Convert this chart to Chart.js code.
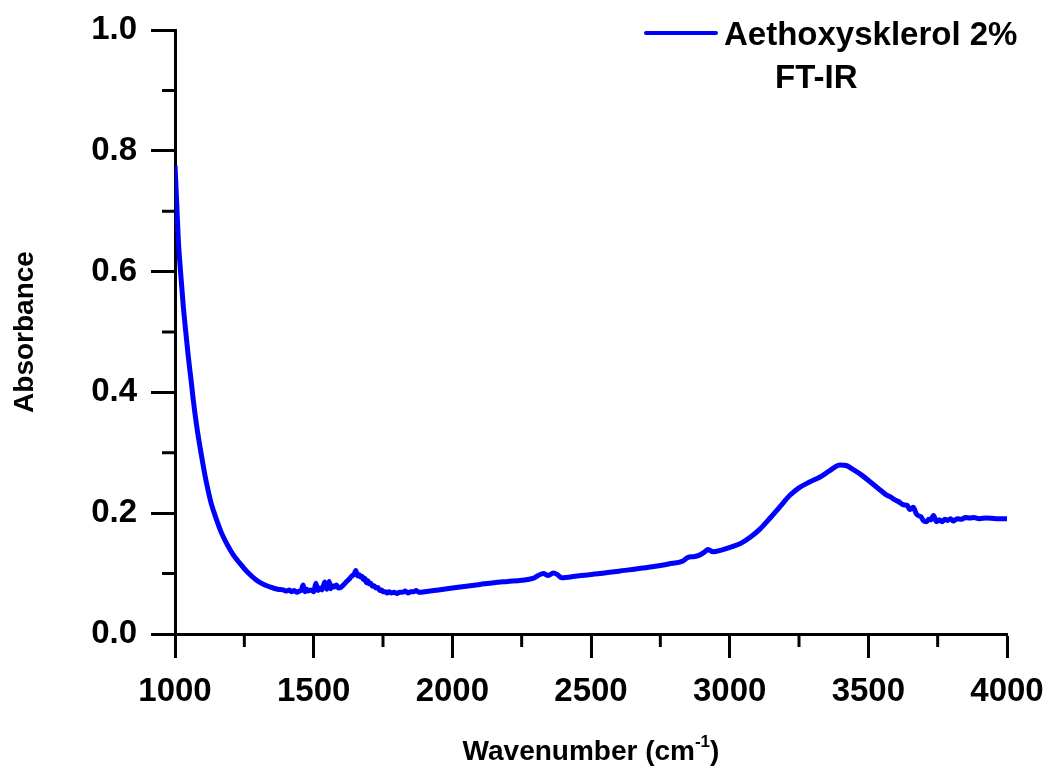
<!DOCTYPE html>
<html>
<head>
<meta charset="utf-8">
<script src="https://cdn.jsdelivr.net/npm/chart.js@4.4.0/dist/chart.umd.min.js"></script>
<style>
  html, body { margin: 0; padding: 0; background: #fff; }
  #spectro { display: block; }
</style>
</head>
<body>
<canvas id="spectro" width="1049" height="772"></canvas>
<script>
// wavenumber (cm-1) and absorbance
const wavenumber = [1000, 1006, 1012, 1020, 1030, 1040, 1048, 1058, 1066, 1078, 1090, 1102, 1114, 1130, 1150, 1168, 1186, 1210, 1234, 1260, 1294, 1320, 1342, 1370, 1390, 1402, 1412, 1420, 1430, 1440, 1448, 1455, 1462, 1468, 1475, 1480, 1490, 1500, 1508, 1515, 1522, 1530, 1540, 1548, 1556, 1562, 1570, 1575, 1582, 1590, 1600, 1615, 1630, 1640, 1645, 1652, 1656, 1660, 1665, 1670, 1675, 1680, 1685, 1690, 1695, 1700, 1706, 1712, 1718, 1725, 1732, 1738, 1745, 1750, 1758, 1765, 1772, 1780, 1790, 1800, 1810, 1820, 1830, 1840, 1850, 1860, 1870, 1880, 1900, 1950, 2000, 2050, 2100, 2150, 2200, 2250, 2290, 2310, 2328, 2346, 2364, 2380, 2394, 2450, 2533, 2600, 2713, 2780, 2832, 2850, 2870, 2893, 2910, 2922, 2940, 2970, 3012, 3040, 3074, 3110, 3146, 3180, 3218, 3250, 3290, 3326, 3360, 3398, 3420, 3446, 3476, 3506, 3536, 3566, 3580, 3596, 3610, 3626, 3640, 3650, 3662, 3672, 3680, 3690, 3698, 3710, 3718, 3725, 3735, 3746, 3756, 3766, 3776, 3786, 3796, 3806, 3820, 3836, 3850, 3866, 3880, 3900, 3926, 3960, 4000];
const absorbance = [0.776, 0.715, 0.652, 0.600, 0.542, 0.495, 0.459, 0.420, 0.387, 0.345, 0.310, 0.278, 0.249, 0.217, 0.189, 0.167, 0.150, 0.131, 0.117, 0.103, 0.089, 0.082, 0.078, 0.074, 0.073, 0.071, 0.073, 0.070, 0.072, 0.069, 0.071, 0.072, 0.081, 0.070, 0.074, 0.071, 0.073, 0.070, 0.084, 0.072, 0.076, 0.073, 0.086, 0.074, 0.087, 0.075, 0.080, 0.078, 0.081, 0.076, 0.078, 0.085, 0.092, 0.097, 0.098, 0.105, 0.099, 0.096, 0.098, 0.094, 0.095, 0.090, 0.092, 0.085, 0.088, 0.083, 0.084, 0.079, 0.080, 0.076, 0.077, 0.072, 0.073, 0.070, 0.070, 0.068, 0.070, 0.068, 0.069, 0.067, 0.069, 0.069, 0.071, 0.068, 0.070, 0.070, 0.072, 0.069, 0.070, 0.073, 0.076, 0.079, 0.082, 0.085, 0.087, 0.089, 0.092, 0.097, 0.100, 0.097, 0.101, 0.098, 0.093, 0.096, 0.100, 0.104, 0.111, 0.116, 0.121, 0.127, 0.128, 0.131, 0.136, 0.140, 0.136, 0.139, 0.145, 0.150, 0.160, 0.174, 0.192, 0.210, 0.230, 0.242, 0.252, 0.260, 0.270, 0.280, 0.279, 0.272, 0.263, 0.252, 0.241, 0.230, 0.227, 0.222, 0.219, 0.214, 0.213, 0.206, 0.210, 0.200, 0.196, 0.194, 0.188, 0.186, 0.190, 0.189, 0.196, 0.186, 0.189, 0.186, 0.190, 0.188, 0.191, 0.187, 0.191, 0.190, 0.193, 0.192, 0.193, 0.191, 0.192, 0.191, 0.191];

const xMinor = [1250, 1750, 2250, 2750, 3250, 3750];
const yMinor = [0.1, 0.3, 0.5, 0.7, 0.9];

const seriesName = 'Aethoxysklerol 2%';
const subTitle = 'FT-IR';
const FONT = "'Liberation Sans', Arial, sans-serif";

const points = wavenumber.map((w, i) => ({ x: w, y: absorbance[i] }));

// minor ticks, axis titles and the legend box
const extras = {
  id: 'extras',
  afterDraw(chart) {
    const ctx = chart.ctx;
    const xs = chart.scales.x, ys = chart.scales.y;
    const area = chart.chartArea;
    ctx.save();
    ctx.strokeStyle = '#000';
    ctx.lineWidth = 3;
    ctx.beginPath();
    xMinor.forEach(v => {
      const px = xs.getPixelForValue(v);
      ctx.moveTo(px, area.bottom);
      ctx.lineTo(px, area.bottom + 13);
    });
    yMinor.forEach(v => {
      const py = ys.getPixelForValue(v);
      ctx.moveTo(area.left - 13, py);
      ctx.lineTo(area.left, py);
    });
    ctx.stroke();

    ctx.fillStyle = '#000';
    // x title with superscript
    ctx.textBaseline = 'alphabetic';
    const a = 'Wavenumber (cm', b = '-1', c = ')';
    ctx.font = 'bold 28px ' + FONT;
    const wa = ctx.measureText(a).width, wc = ctx.measureText(c).width;
    ctx.font = 'bold 17px ' + FONT;
    const wb = ctx.measureText(b).width;
    let tx = (area.left + area.right) / 2 - (wa + wb + wc) / 2;
    const ty = 760;
    ctx.font = 'bold 28px ' + FONT;
    ctx.textAlign = 'left';
    ctx.fillText(a, tx, ty);
    ctx.font = 'bold 17px ' + FONT;
    ctx.fillText(b, tx + wa, ty - 13);
    ctx.font = 'bold 28px ' + FONT;
    ctx.fillText(c, tx + wa + wb, ty);

    // y title
    ctx.save();
    ctx.translate(33, (area.top + area.bottom) / 2);
    ctx.rotate(-Math.PI / 2);
    ctx.textAlign = 'center';
    ctx.font = 'bold 28px ' + FONT;
    ctx.fillText('Absorbance', 0, 0);
    ctx.restore();

    // legend
    const ds = chart.data.datasets[0];
    ctx.strokeStyle = ds.borderColor;
    ctx.lineWidth = 4;
    ctx.lineCap = 'round';
    ctx.beginPath();
    ctx.moveTo(646, 33);
    ctx.lineTo(716, 33);
    ctx.stroke();
    ctx.font = 'bold 33px ' + FONT;
    ctx.textAlign = 'left';
    ctx.fillText(ds.label, 724, 45);
    ctx.fillText(subTitle, 775, 88);
    ctx.restore();
  }
};

new Chart(document.getElementById('spectro'), {
  type: 'line',
  data: {
    datasets: [{
      label: seriesName,
      data: points,
      borderColor: '#0000ff',
      backgroundColor: '#0000ff',
      borderWidth: 5,
      pointRadius: 0,
      cubicInterpolationMode: 'monotone',
      fill: false
    }]
  },
  options: {
    responsive: false,
    animation: false,
    layout: { padding: { top: 30, right: 42, left: 0, bottom: 0 } },
    plugins: { legend: { display: false }, tooltip: { enabled: false } },
    scales: {
      x: {
        type: 'linear',
        min: 1000,
        max: 4000,
        afterFit(scale) {
          scale.height = 138;
          scale.paddingLeft = 0;
          scale.paddingRight = 0;
        },
        border: { color: '#000', width: 3 },
        grid: { drawOnChartArea: false, tickLength: 24, tickWidth: 3, tickColor: '#000' },
        ticks: {
          stepSize: 500,
          color: '#000',
          padding: 14,
          font: { family: FONT, size: 33, weight: 'bold' },
          callback: v => String(v)
        }
      },
      y: {
        min: 0,
        max: 1,
        afterFit(scale) {
          scale.width = 175;
          scale.paddingTop = 0;
          scale.paddingBottom = 0;
        },
        border: { color: '#000', width: 3 },
        grid: { drawOnChartArea: false, tickLength: 24, tickWidth: 3, tickColor: '#000' },
        ticks: {
          stepSize: 0.2,
          color: '#000',
          padding: 14,
          font: { family: FONT, size: 33, weight: 'bold' },
          callback: v => v.toFixed(1)
        }
      }
    }
  },
  plugins: [extras]
});
</script>
</body>
</html>
